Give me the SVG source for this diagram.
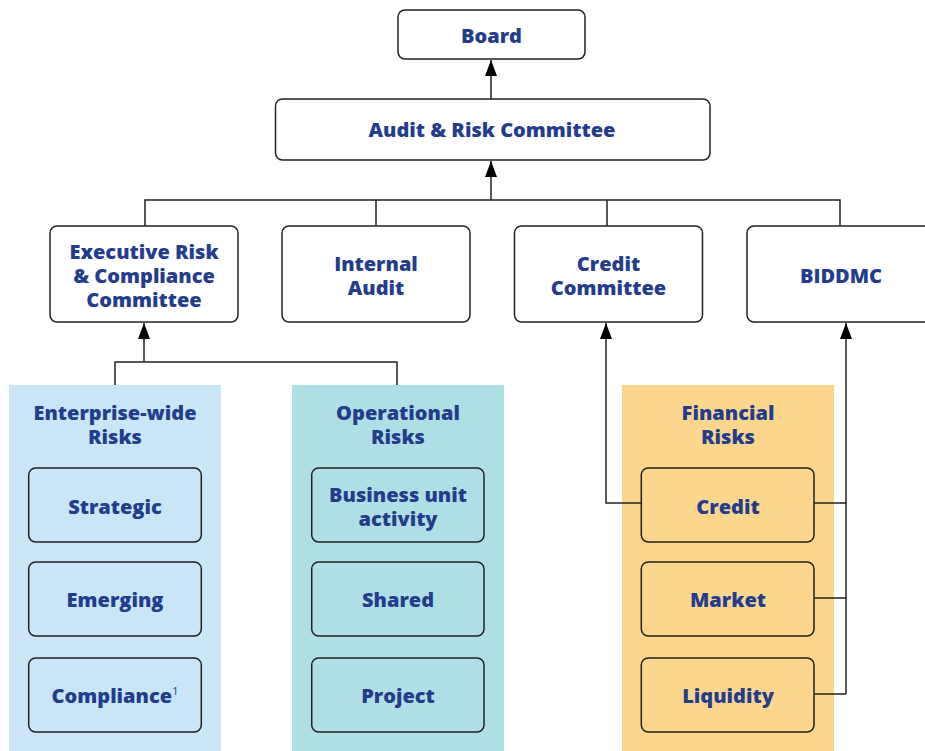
<svg xmlns="http://www.w3.org/2000/svg" width="925" height="751" viewBox="0 0 925 751">
<defs>
<style>
.box{fill:#fff;stroke:#222;stroke-width:1.5}
.ibox{stroke:#222;stroke-width:1.5}
.t{font-family:"Open Sans",Lato,sans-serif;font-weight:800;font-size:20px;fill:#233d8c;text-anchor:middle;dominant-baseline:central}
.sup{font-weight:400;font-size:11px}
.ln{fill:none;stroke:#222;stroke-width:1.5}
</style>
<marker id="arr" markerWidth="18" markerHeight="14" refX="17" refY="7" orient="auto" markerUnits="userSpaceOnUse" viewBox="0 0 18 14">
<path d="M17 7 L1 1 L1 13 Z" fill="#000"/>
</marker>
</defs>
<rect x="9" y="385" width="212" height="370" fill="#c9e5f6"/>
<rect x="292" y="385" width="212" height="370" fill="#aedfe5"/>
<rect x="622" y="385" width="212" height="370" fill="#fdd68e"/>
<g id="connectors">
<path class="ln" d="M491 99 V60" marker-end="url(#arr)"/>
<path class="ln" d="M491 200 V161" marker-end="url(#arr)"/>
<path class="ln" d="M145 226 V200 H840 V226 M376 200 V226 M607 200 V226"/>
<path class="ln" d="M144 362 V323" marker-end="url(#arr)"/>
<path class="ln" d="M115 385 V362 H397 V385"/>
<path class="ln" d="M641 503 H606 V323" marker-end="url(#arr)"/>
<path class="ln" d="M814 503 H846 M814 598 H846 M814 694 H846"/>
<path class="ln" d="M846 694 V323" marker-end="url(#arr)"/>
</g>
<g id="board"><rect class="box" x="398" y="10" width="187" height="49" rx="7"/><text class="t" x="491.5" y="35.5">Board</text></g>
<g id="arc"><rect class="box" x="275.5" y="99" width="434.5" height="61" rx="7"/><text class="t" x="492" y="129.5">Audit &amp; Risk Committee</text></g>
<g id="ercc"><rect class="box" x="50" y="226" width="188" height="96" rx="7"/><text class="t" x="144" y="251.5">Executive Risk</text><text class="t" x="144" y="275.5">&amp; Compliance</text><text class="t" x="144" y="299.5">Committee</text></g>
<g id="ia"><rect class="box" x="282" y="226" width="188" height="96" rx="7"/><text class="t" x="376" y="263.5">Internal</text><text class="t" x="376" y="287.5">Audit</text></g>
<g id="cc"><rect class="box" x="514.5" y="226" width="188" height="96" rx="7"/><text class="t" x="608.5" y="263.5">Credit</text><text class="t" x="608.5" y="287.5">Committee</text></g>
<g id="biddmc"><rect class="box" x="747" y="226" width="190" height="96" rx="7"/><text class="t" x="841" y="275.5">BIDDMC</text></g>
<g id="ent"><text class="t" x="115" y="412.5">Enterprise-wide</text><text class="t" x="115" y="436.5">Risks</text></g>
<g id="ops"><text class="t" x="398" y="412.5">Operational</text><text class="t" x="398" y="436.5">Risks</text></g>
<g id="fin"><text class="t" x="728" y="412.5">Financial</text><text class="t" x="728" y="436.5">Risks</text></g>
<g id="strategic"><rect class="ibox" fill="#c9e5f6" x="28.7" y="468" width="172.6" height="74" rx="7"/><text class="t" x="115" y="506.5">Strategic</text></g>
<g id="emerging"><rect class="ibox" fill="#c9e5f6" x="28.7" y="562" width="172.6" height="74" rx="7"/><text class="t" x="115" y="599.5">Emerging</text></g>
<g id="compliance"><rect class="ibox" fill="#c9e5f6" x="28.7" y="658" width="172.6" height="74" rx="7"/><text class="t" x="115" y="695.5">Compliance<tspan class="sup" dy="-6">1</tspan></text></g>
<g id="bua"><rect class="ibox" fill="#aedfe5" x="311.7" y="468" width="172.3" height="74" rx="7"/><text class="t" x="398" y="494.5">Business unit</text><text class="t" x="398" y="518.5">activity</text></g>
<g id="shared"><rect class="ibox" fill="#aedfe5" x="311.7" y="562" width="172.3" height="74" rx="7"/><text class="t" x="398" y="599.5">Shared</text></g>
<g id="project"><rect class="ibox" fill="#aedfe5" x="311.7" y="658" width="172.3" height="74" rx="7"/><text class="t" x="398" y="695.5">Project</text></g>
<g id="credit"><rect class="ibox" fill="#fdd68e" x="641.3" y="468" width="172.7" height="74" rx="7"/><text class="t" x="728" y="506.5">Credit</text></g>
<g id="market"><rect class="ibox" fill="#fdd68e" x="641.3" y="562" width="172.7" height="74" rx="7"/><text class="t" x="728" y="599.5">Market</text></g>
<g id="liquidity"><rect class="ibox" fill="#fdd68e" x="641.3" y="658" width="172.7" height="74" rx="7"/><text class="t" x="728" y="695.5">Liquidity</text></g>
</svg>
